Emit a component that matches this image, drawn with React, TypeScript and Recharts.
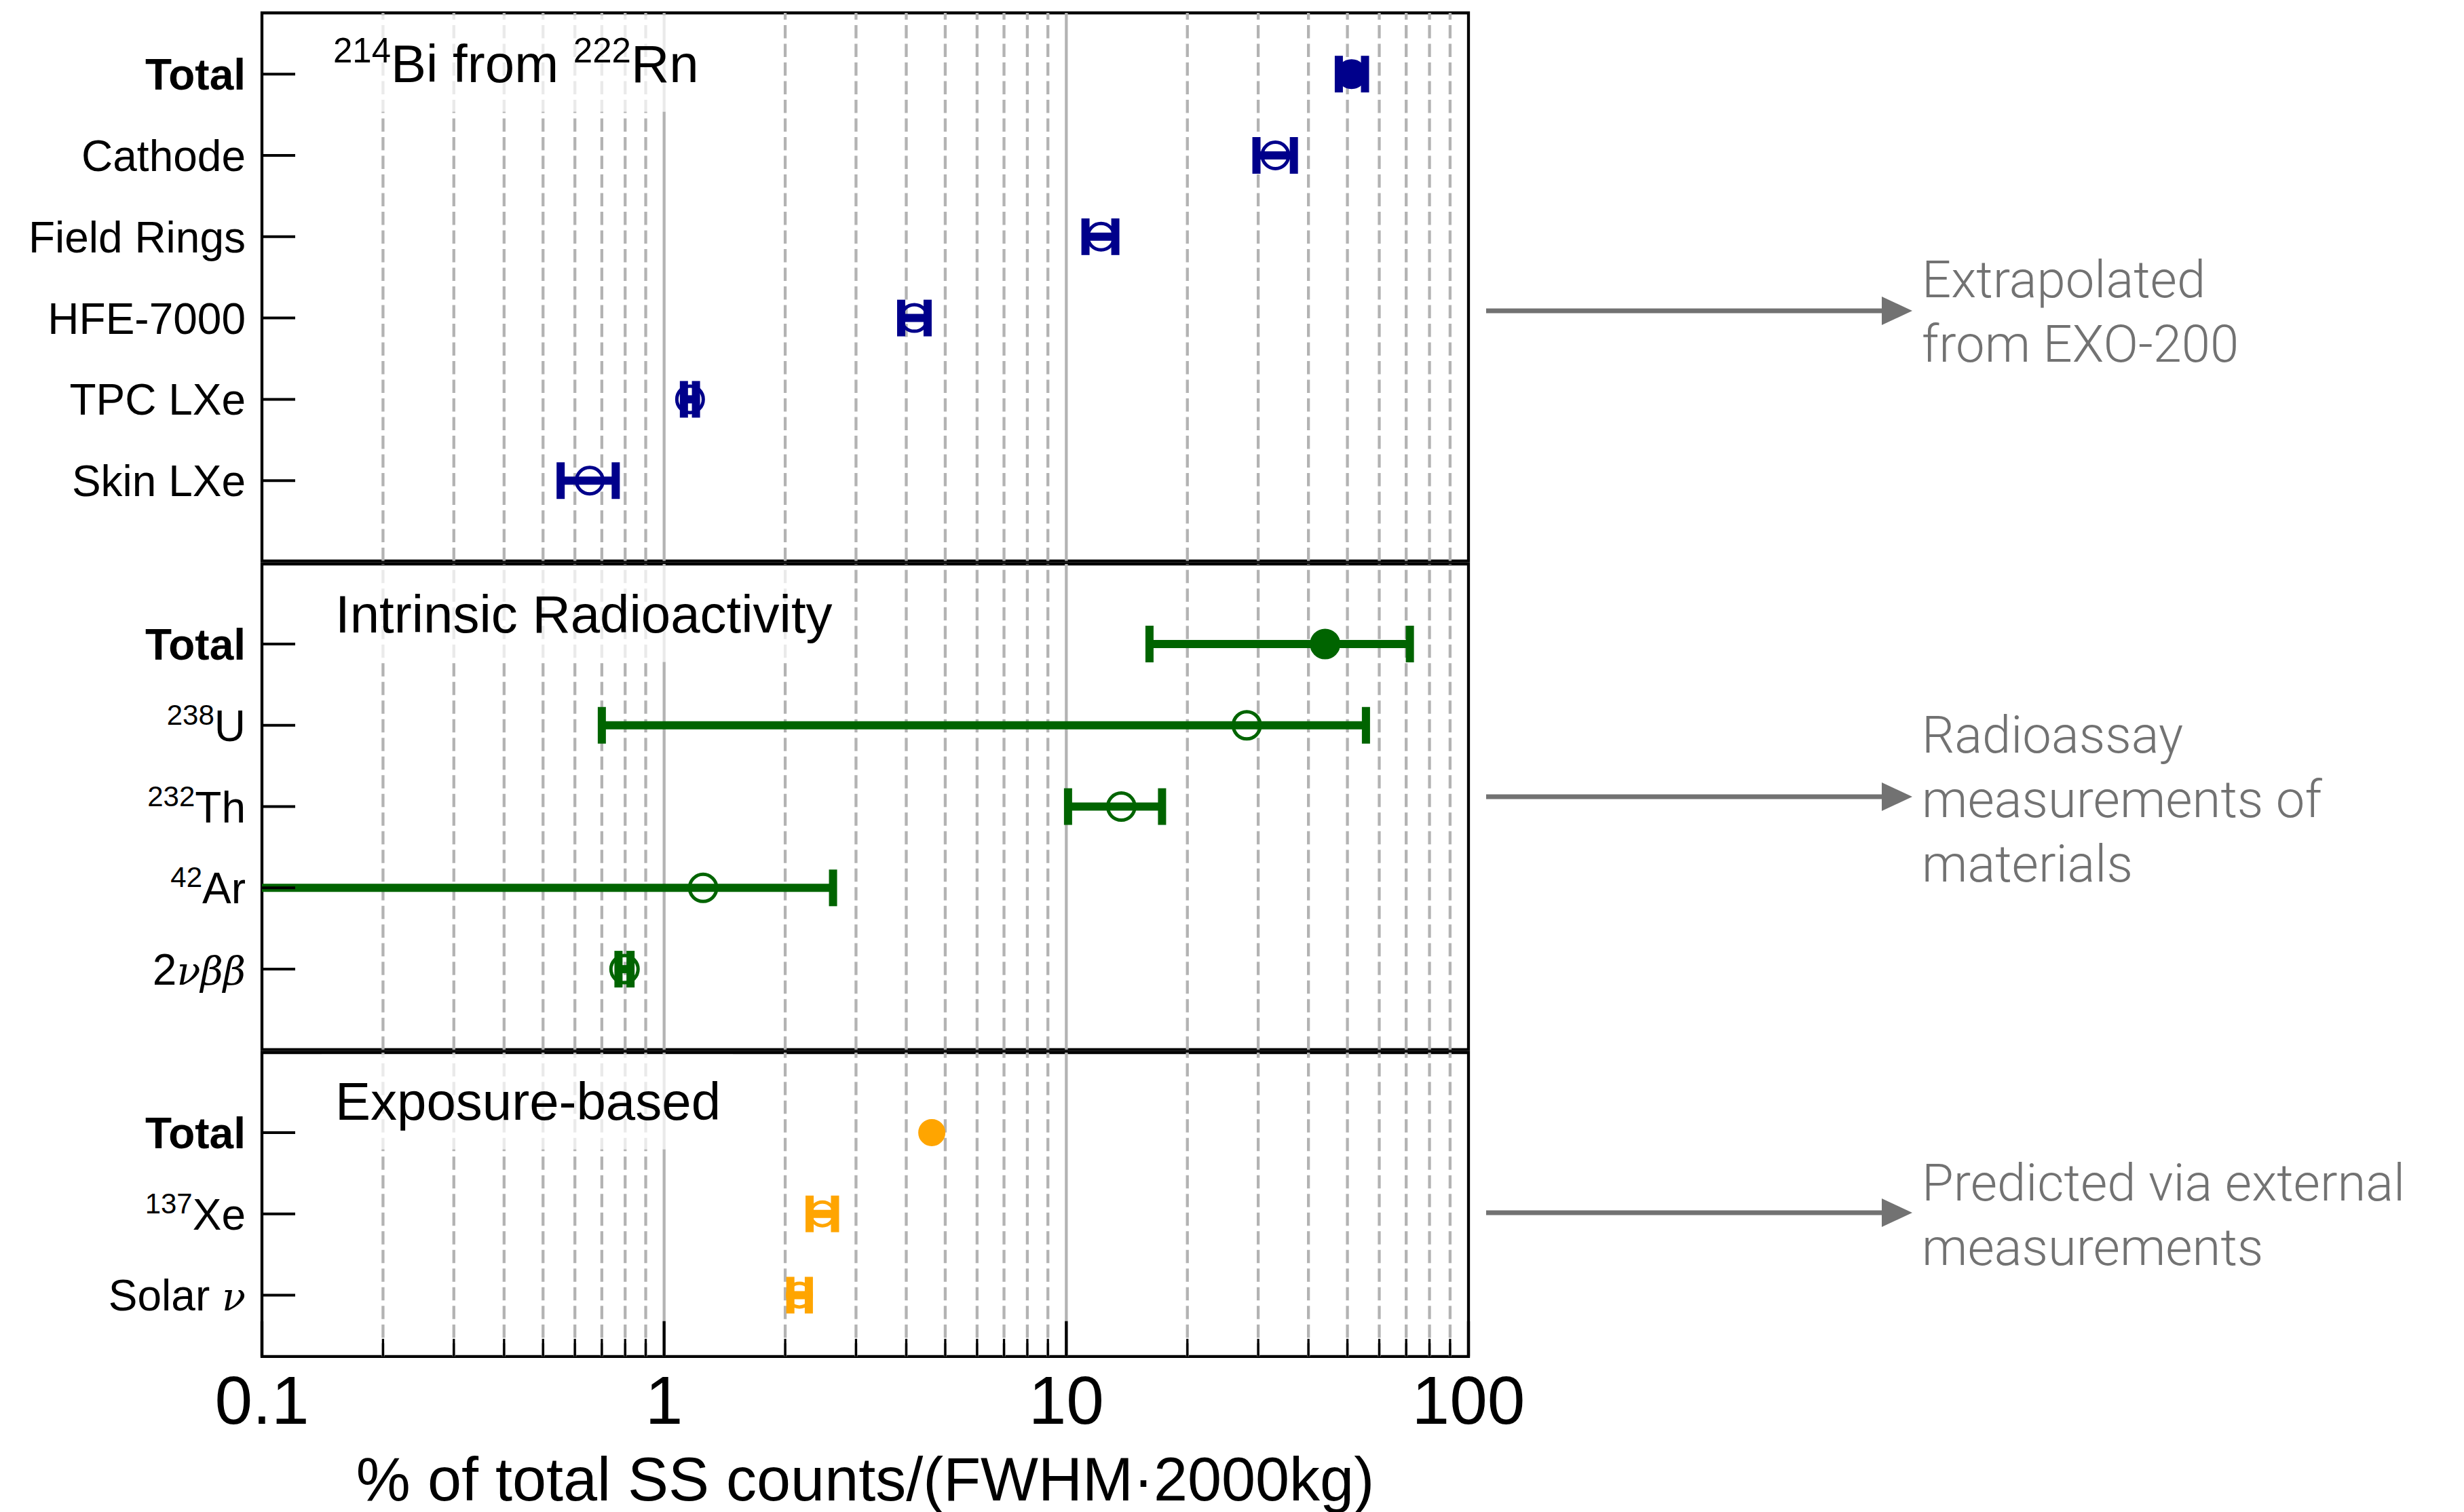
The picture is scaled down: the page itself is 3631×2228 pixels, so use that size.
import React from 'react';
import { ScatterChart, Scatter, XAxis, YAxis, ErrorBar, ReferenceLine, ReferenceArea } from 'recharts';

// x axis (log) ticks, grid and labels
const xTicks = [0.1, 0.2, 0.3, 0.4, 0.5, 0.6, 0.7, 0.8, 0.9, 1, 2, 3, 4, 5, 6, 7, 8, 9, 10, 20, 30, 40, 50, 60, 70, 80, 90, 100];
const decadeTicks = [0.1, 1, 10, 100];
const decadeLabels = ['0.1', '1', '10', '100'];
const dashedGrid = [0.2, 0.3, 0.4, 0.5, 0.6, 0.7, 0.8, 0.9, 2, 3, 4, 5, 6, 7, 8, 9, 20, 30, 40, 50, 60, 70, 80, 90];
const solidGrid = [1, 10];

// 214Bi from 222Rn
const rnLabels = ['Total', 'Cathode', 'Field Rings', 'HFE-7000', 'TPC LXe', 'Skin LXe'];
const rnValues = [51.2, 33.1, 12.2, 4.19, 1.16, 0.653];
const rnLow = [47.6, 29.7, 11.16, 3.885, 1.12, 0.553];
const rnHigh = [55.3, 36.8, 13.24, 4.52, 1.2, 0.758];

// Intrinsic radioactivity
const intLabels = ['Total', '^{238}U', '^{232}Th', '^{42}Ar', '2$νββ$'];
const intValues = [44.0, 28.1, 13.7, 1.25, 0.797];
const intLow = [16.1, 0.7, 10.1, 0.03, 0.77];
const intHigh = [71.5, 55.6, 17.3, 2.63, 0.825];

// Exposure-based
const expLabels = ['Total', '^{137}Xe', 'Solar $ν$'];
const expValues = [4.63, 2.475, 2.17];
const expLow = [4.63, 2.3, 2.06];
const expHigh = [4.63, 2.66, 2.29];

const notes = [
  ['Extrapolated', 'from EXO-200'],
  ['Radioassay', 'measurements of', 'materials'],
  ['Predicted via external', 'measurements'],
];

const SANS = '"Liberation Sans", Arial, Helvetica, sans-serif';
const SERIF = '"DejaVu Serif", "Liberation Serif", serif';
const CHART_W = 2400;
const PLOT_LEFT = 386;
const PLOT_RIGHT = 2164;
const PAD_TOP = 20;
const GRID = '#b3b3b3';

function buildRows(labels: string[], values: number[], low: number[], high: number[]) {
  return labels.map((label, i) => ({
    x: values[i],
    y: i,
    // no bar drawn where the range is empty
    err: low[i] === high[i] ? null : [values[i] - low[i], high[i] - values[i]],
    filled: label === 'Total',
  }));
}

function RichText({ x, y, text, size, anchor }: { x: number; y: number; text: string; size: number; anchor: string }) {
  const parts: React.ReactNode[] = [];
  const re = /\^\{([^}]*)\}|\$([^$]*)\$|([^^$]+)/g;
  let m: RegExpExecArray | null;
  let shift = 0;
  let k = 0;
  const supSize = Math.round(size * 0.66);
  const supRise = Math.round(size * 0.37);
  while ((m = re.exec(text))) {
    if (m[1] !== undefined) {
      parts.push(<tspan key={k++} fontSize={supSize} dy={-supRise - shift}>{m[1]}</tspan>);
      shift = -supRise;
    } else if (m[2] !== undefined) {
      parts.push(<tspan key={k++} fontFamily={SERIF} fontStyle="italic" fontSize={size * 0.9} dy={-shift}>{m[2]}</tspan>);
      shift = 0;
    } else {
      parts.push(<tspan key={k++} dy={-shift}>{m[3]}</tspan>);
      shift = 0;
    }
  }
  return (
    <text x={x} y={y} textAnchor={anchor as any} fontFamily={SANS} fontSize={size} fill="#000"
      fontWeight={text === 'Total' ? 'bold' : 'normal'}>
      {parts}
    </text>
  );
}

function YTick(props: any) {
  const { x, y, payload, labels } = props;
  return (
    <g>
      <line x1={x} y1={y} x2={x + 49} y2={y} stroke="#000" strokeWidth={4} />
      <RichText x={x - 24} y={y + 23} text={labels[payload.value]} size={64} anchor="end" />
    </g>
  );
}

function XTick(props: any) {
  const { x, y, payload } = props;
  const idx = decadeTicks.indexOf(payload.value);
  const major = idx >= 0;
  return (
    <g>
      <line x1={x} y1={y} x2={x} y2={y - (major ? 52 : 26)} stroke="#000" strokeWidth={major ? 4.3 : 3.3} />
      {major && (
        <text x={x} y={y + 99} textAnchor="middle" fontFamily={SANS} fontSize={100} fill="#000">
          {decadeLabels[idx]}
        </text>
      )}
    </g>
  );
}

function Marker(props: any) {
  const { cx, cy, payload, color, r } = props;
  if (cx == null || cy == null) return null;
  return (
    <circle cx={cx} cy={cy} r={r} fill={payload.filled ? color : 'none'} stroke={color} strokeWidth={5} />
  );
}

function Panel({ id, rows, labels, color, domain, plotTop, plotHeight, showX, r }: any) {
  const padBottom = showX ? 0 : 20;
  const xAxisH = showX ? 230 : 0;
  const height = PAD_TOP + plotHeight + padBottom + xAxisH;
  return (
    <div className={'panel-' + id} style={{ position: 'absolute', left: 0, top: plotTop - PAD_TOP }}>
      <ScatterChart width={CHART_W} height={height}
        margin={{ top: PAD_TOP, right: CHART_W - PLOT_RIGHT, bottom: padBottom, left: 0 }}>
        <XAxis type="number" dataKey="x" scale="log" domain={[0.1, 100]} allowDataOverflow ticks={xTicks}
          interval={0} hide={!showX} height={xAxisH} axisLine={false} tickLine={false} tickSize={0}
          tickMargin={0} tick={<XTick />}
          label={showX ? {
            content: (p: any) => {
              const vb = p.viewBox || {};
              return (
                <text x={vb.x + vb.width / 2} y={vb.y + 212.5} textAnchor="middle" fontFamily={SANS}
                  fontSize={90} fill="#000">
                  % of total SS counts/(FWHM·2000kg)
                </text>
              );
            },
          } : undefined} />
        <YAxis type="number" dataKey="y" domain={domain} reversed allowDataOverflow
          ticks={rows.map((d: any) => d.y)} interval={0} width={PLOT_LEFT} axisLine={false} tickLine={false}
          tickSize={0} tickMargin={0} tick={(p: any) => <YTick {...p} labels={labels} />} />
        {dashedGrid.map((v) => (
          <ReferenceLine key={'d' + v} x={v} stroke={GRID} strokeWidth={4.3} strokeDasharray="19.5 8" />
        ))}
        {solidGrid.map((v) => (
          <ReferenceLine key={'s' + v} x={v} stroke={GRID} strokeWidth={4.3} />
        ))}
        <ReferenceArea x1={0.1} x2={100} y1={domain[0]} y2={domain[1]} fill="none" fillOpacity={0}
          stroke="#000" strokeWidth={4.3} ifOverflow="visible" />
        <Scatter data={rows} isAnimationActive={false} shape={(p: any) => <Marker {...p} color={color} r={r} />}>
          <ErrorBar dataKey="err" direction="x" width={27} strokeWidth={12} stroke={color} isAnimationActive={false} />
        </Scatter>
      </ScatterChart>
    </div>
  );
}

function Title({ x, baseline, top, right, text }: any) {
  return (
    <g>
      <rect x={x - 20} y={top + 3} width={right - x + 40} height={baseline + 44 - top - 3} fill="#fff" fillOpacity={0.72} />
      <RichText x={x} y={baseline} text={text} size={78} anchor="start" />
    </g>
  );
}

const panelHeights = [807.6, 715.7, 447.8];
const clipCss = [1, 2, 3]
  .map((id) => `.panel-${id} .recharts-scatter, .panel-${id} .recharts-errorBars, .panel-${id} .recharts-errorBar { clip-path: url(#plot-clip-${id}); }`)
  .join('\n');

export default function App() {
  const noteColor = '#727272';
  const arrowYs = [458, 1174, 1787];
  const textYs = [438, 1109, 1769];
  return (
    <div style={{ position: 'absolute', left: 0, top: 0, width: 3631, height: 2228, background: '#fff' }}>
      <style>{clipCss}</style>
      <Panel id={1} rows={buildRows(rnLabels, rnValues, rnLow, rnHigh)} labels={rnLabels} color="#00008b"
        domain={[-0.753, 5.988]} plotTop={19.4} plotHeight={panelHeights[0]} showX={false} r={19.5} />
      <Panel id={2} rows={buildRows(intLabels, intValues, intLow, intHigh)} labels={intLabels} color="#006400"
        domain={[-0.985, 4.99]} plotTop={831} plotHeight={panelHeights[1]} showX={false} r={20} />
      <Panel id={3} rows={buildRows(expLabels, expValues, expLow, expHigh)} labels={expLabels} color="#ffa500"
        domain={[-0.984, 2.754]} plotTop={1550.7} plotHeight={panelHeights[2]} showX={true} r={17.5} />
      <svg width={3631} height={2228} style={{ position: 'absolute', left: 0, top: 0, pointerEvents: 'none' }}>
        <defs>
          {panelHeights.map((h, i) => (
            <clipPath key={i} id={`plot-clip-${i + 1}`} clipPathUnits="userSpaceOnUse">
              <rect x={PLOT_LEFT} y={PAD_TOP - 40} width={PLOT_RIGHT - PLOT_LEFT} height={h + 80} />
            </clipPath>
          ))}
        </defs>
        <Title x={491} baseline={120.7} top={19.4} right={1040} text="^{214}Bi from ^{222}Rn" />
        <Title x={494} baseline={931.5} top={831} right={1222} text="Intrinsic Radioactivity" />
        <Title x={494} baseline={1649.7} top={1550.7} right={1060} text="Exposure-based" />
        {notes.map((lines, i) => (
          <g key={i}>
            <line x1={2190} y1={arrowYs[i]} x2={2778} y2={arrowYs[i]} stroke={noteColor} strokeWidth={7} />
            <polygon points={`2773,${arrowYs[i] - 21} 2818,${arrowYs[i]} 2773,${arrowYs[i] + 21}`} fill={noteColor} />
            <text x={2832} y={textYs[i]} fontFamily='Roboto, "Liberation Sans", sans-serif' fontWeight={300}
              fontSize={76} fill={noteColor}>
              {lines.map((ln, j) => (
                <tspan key={j} x={2832} dy={j === 0 ? 0 : 95}>{ln}</tspan>
              ))}
            </text>
          </g>
        ))}
      </svg>
    </div>
  );
}
